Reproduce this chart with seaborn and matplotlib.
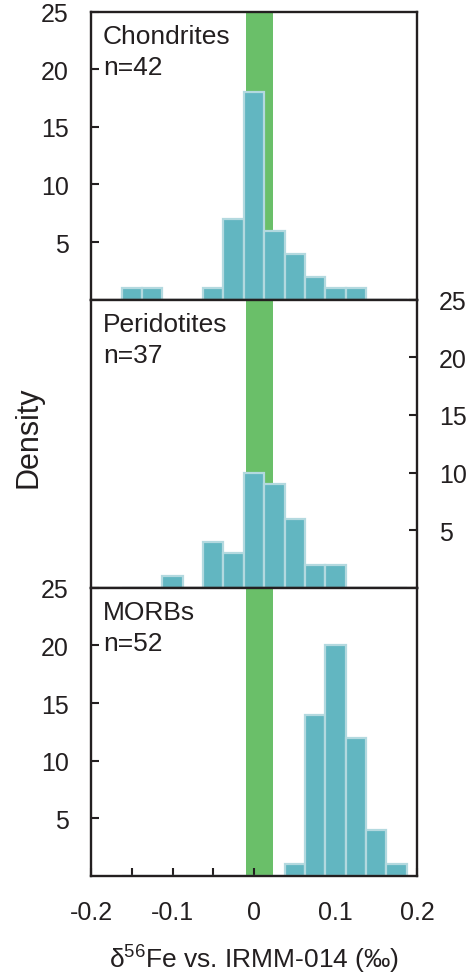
import numpy as np
import pandas as pd
import matplotlib
matplotlib.use("Agg")
import matplotlib.pyplot as plt
import seaborn as sns

# =========================
# Datos (conteos por intervalo)
# =========================
bin_width = 0.025
bin_range = (-0.1625, 0.1875)

chond_centers = [-0.15, -0.125, -0.05, -0.025, 0.0, 0.025, 0.05, 0.075, 0.1, 0.125]
chond_counts = [1, 1, 1, 7, 18, 6, 4, 2, 1, 1]

perid_centers = [-0.1, -0.05, -0.025, 0.0, 0.025, 0.05, 0.075, 0.1]
perid_counts = [1, 4, 3, 10, 9, 6, 2, 2]

morb_centers = [0.05, 0.075, 0.1, 0.125, 0.15, 0.175]
morb_counts = [1, 14, 20, 12, 4, 1]

panel_names = ["Chondrites", "Peridotites", "MORBs"]
panel_n = ["n=42", "n=37", "n=52"]

band = (-0.01, 0.023)
y_ticks = [5, 10, 15, 20, 25]
x_major = [-0.2, -0.1, 0.0, 0.1, 0.2]
x_major_labels = ["-0.2", "-0.1", "0", "0.1", "0.2"]
x_minor = [-0.15, -0.05, 0.05, 0.15]

# =========================
# Estilo
# =========================
sns.set_theme(style="white")
plt.rcParams["font.family"] = ["Liberation Sans", "DejaVu Sans"]
plt.rcParams["mathtext.fontset"] = "custom"
plt.rcParams["mathtext.rm"] = "Liberation Sans"
plt.rcParams["mathtext.it"] = "Liberation Sans"
plt.rcParams["axes.unicode_minus"] = False

dark = "#231f20"
bar_fill = "#62b6c1"
bar_edge = "#b3d9df"
green = "#6abf69"

fig, axes = plt.subplots(3, 1, figsize=(4.71, 9.78), dpi=100, sharex=True)
fig.subplots_adjust(left=91 / 471, right=417 / 471,
                    top=1 - 12.5 / 978, bottom=1 - 877 / 978, hspace=0)

datos = [(chond_centers, chond_counts), (perid_centers, perid_counts),
         (morb_centers, morb_counts)]

for i, ax in enumerate(axes):
    centers, counts = datos[i]
    df = pd.DataFrame({"x": centers, "w": counts})
    ax.axvspan(band[0], band[1], color=green, lw=0, zorder=0)
    sns.histplot(data=df, x="x", weights="w", binwidth=bin_width,
                 binrange=bin_range, ax=ax,
                 color=bar_fill, edgecolor=bar_edge, linewidth=1.6,
                 alpha=1, zorder=2)
    ax.set_xlim(-0.2, 0.2)
    ax.set_ylim(0, 25)
    ax.set_xlabel("")
    ax.set_ylabel("")
    for s in ax.spines.values():
        s.set_color(dark)
        s.set_linewidth(1.7)
        s.set_zorder(5)

    ax.set_yticks(y_ticks)
    ax.set_yticklabels([str(t) for t in y_ticks])
    if i == 1:
        ax.tick_params(axis="y", left=False, labelleft=False,
                       right=True, labelright=True)
    else:
        ax.tick_params(axis="y", left=True, labelleft=True,
                       right=False, labelright=False)
    ax.tick_params(axis="y", direction="in", length=6, width=1.5,
                   color=dark, labelcolor=dark, labelsize=18, pad=16)

    if i < 2:
        ax.tick_params(axis="x", bottom=False, labelbottom=False)

    ax.text(0.037, 0.915, panel_names[i], transform=ax.transAxes,
            fontsize=19, color=dark, va="center", ha="left")
    ax.text(0.037, 0.808, panel_n[i], transform=ax.transAxes,
            fontsize=19, color=dark, va="center", ha="left")

ax = axes[2]
ax.set_xticks(x_major)
ax.set_xticklabels(x_major_labels)
ax.set_xticks(x_minor, minor=True)
ax.tick_params(axis="x", which="both", direction="in", length=6, width=1.5,
               color=dark, labelcolor=dark, labelsize=18, pad=17,
               bottom=True, labelbottom=True)
ax.set_xlabel(r"δ$^{56}$Fe vs. IRMM-014 (‰)", fontsize=19, color=dark,
              labelpad=14)

fig.text(28 / 471, 1 - 437 / 978, "Density", rotation=90, fontsize=22,
         color=dark, ha="center", va="center")

plt.savefig("out.png", dpi=100)
plt.close()
